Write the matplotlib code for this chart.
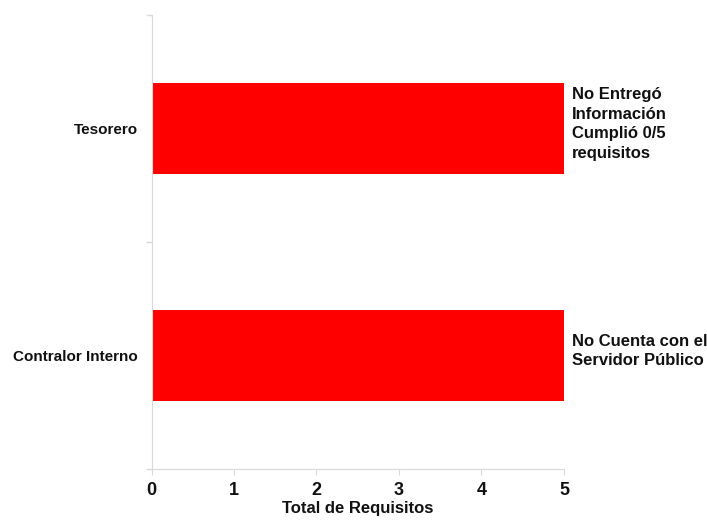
import matplotlib
matplotlib.use('Agg')
import matplotlib.pyplot as plt
from matplotlib.ticker import FixedLocator

plt.rcParams['font.family'] = ['Liberation Sans', 'DejaVu Sans']

categorias = ['Contralor Interno', 'Tesorero']
requisitos = [5, 5]
notas = ['No Cuenta con el\nServidor Público',
         'No Entregó\nInformación\nCumplió 0/5\nrequisitos']

fig = plt.figure(figsize=(7.07, 5.2), dpi=100)
ax = fig.add_axes([0.2143, 0.098, 0.5834, 0.873])

pos = list(range(len(categorias)))
ax.barh(pos, requisitos, height=0.4, color='#ff0000')

for i, (v, nota) in enumerate(zip(requisitos, notas)):
    ax.text(v + 0.1, i + 0.02, nota, ha='left', va='center',
            fontsize=12, fontweight='bold', color='#111111', linespacing=1.38)

ax.set_xlim(0, 5)
ax.set_ylim(-0.5, 1.5)
ax.set_xticks(range(0, 6))
ax.set_yticks(pos)
ax.set_yticklabels(categorias)
ax.yaxis.set_minor_locator(FixedLocator([-0.5, 0.5, 1.5]))

ax.tick_params(axis='y', which='major', length=0, pad=10, labelsize=11)
ax.tick_params(axis='y', which='minor', length=4, color='#d9d9d9', width=1)
ax.tick_params(axis='x', length=4, color='#d9d9d9', labelsize=13, pad=5)
for lbl in ax.get_xticklabels() + ax.get_yticklabels():
    lbl.set_fontweight('bold')
    lbl.set_color('#111111')

ax.set_xlabel('Total de Requisitos', fontsize=12, fontweight='bold',
              color='#111111', labelpad=2)

for s in ['top', 'right']:
    ax.spines[s].set_visible(False)
for s in ['left', 'bottom']:
    ax.spines[s].set_color('#d9d9d9')

fig.savefig('out.png', dpi=100)
